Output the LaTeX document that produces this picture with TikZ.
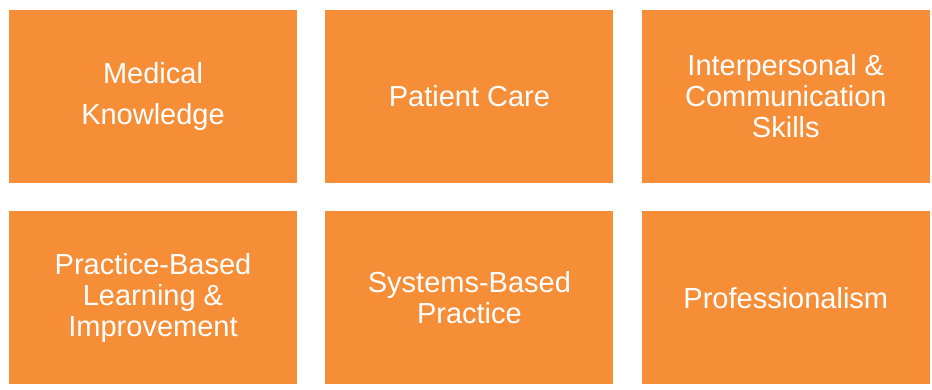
\documentclass[tikz,border=0pt]{standalone}
\usepackage{fontspec}
\setmainfont{Liberation Sans}
\usepackage{xcolor}
\usepackage{tikz}
\usetikzlibrary{positioning}

\definecolor{boxorange}{HTML}{F68E38}

\tikzset{
    compbox/.style={fill=boxorange, draw=none, text=white, align=center,
        minimum width=288pt, minimum height=173pt, inner sep=0pt,
        font=\fontsize{29}{31}\selectfont},
    widebox/.style={compbox, font=\fontsize{29}{41}\selectfont}
}

\begin{document}
\begin{tikzpicture}[x=1pt,y=1pt]
    \useasboundingbox (0,0) rectangle (932,389);

    % Top row
    \node[widebox] (medical) at (153,292.5) {Medical\\Knowledge};
    \node[compbox, right=28pt of medical] (care) {Patient Care};
    \node[compbox, right=28pt of care] (comm) {Interpersonal \&\\Communication\\Skills};

    % Bottom row
    \node[compbox, below=28pt of medical] (pbl) {Practice-Based\\Learning \&\\Improvement};
    \node[compbox, right=28pt of pbl] (sbp) {Systems-Based\\Practice};
    \node[compbox, right=28pt of sbp] (prof) {Professionalism};
\end{tikzpicture}
\end{document}
